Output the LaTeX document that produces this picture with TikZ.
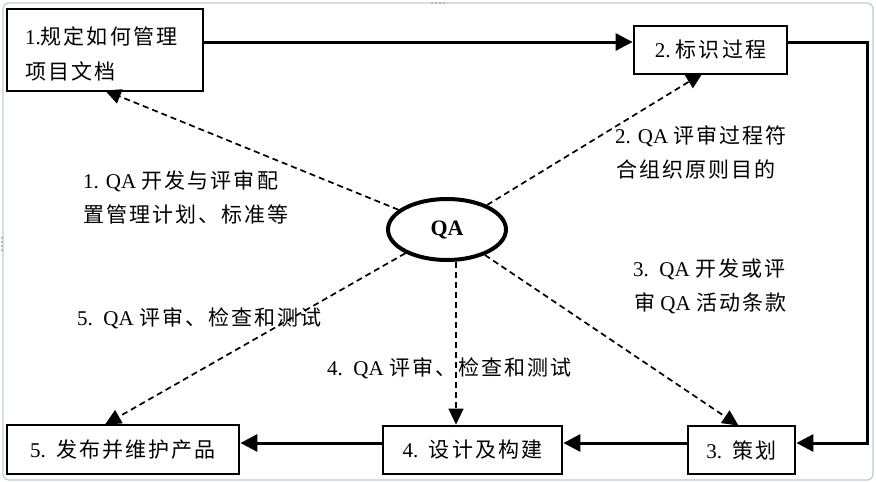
\documentclass[tikz,border=0pt]{standalone}
\usepackage{fontspec}
\setmainfont{Liberation Serif}
\newfontfamily\cjk[LetterSpace=10]{Noto Sans CJK SC}
\usetikzlibrary{arrows.meta,shapes.geometric}
\newcommand\zh[1]{{\cjk #1}}
\definecolor{framec}{RGB}{185,205,212}
\begin{document}
\begin{tikzpicture}[x=1pt,y=-1pt,
  box/.style={draw, line width=2.8pt, fill=white, inner sep=0pt,
    font=\fontsize{21}{35}\selectfont},
  flow/.style={line width=3pt, line join=miter, -{Triangle[length=17pt,width=17pt]}},
  qaline/.style={line width=1.7pt, dash pattern=on 6pt off 4pt,
    -{Triangle[length=16pt,width=15pt]}},
  lab/.style={anchor=base west, inner sep=0pt, font=\fontsize{21}{24}\selectfont},
  dot/.style={fill=framec!80!gray, minimum size=2pt, inner sep=0pt}
]
\useasboundingbox (0,0) rectangle (876,482);
\fill[white] (0,0) rectangle (876,482);
\draw[framec, line width=1.2pt, rounded corners=6pt] (3,3) rectangle (873,480);
\foreach \x in {432,436,440,444} \node[dot] at (\x,3) {};
\foreach \y in {238,242,246,250} \node[dot] at (2,\y) {};

\coordinate (ytop) at (0,42);
\coordinate (ybot) at (0,443);
\coordinate (rx) at (867,0);

% boxes
\node[box, text width=160pt, inner xsep=18pt, minimum height=82pt, align=left]
  (box1) at (105,50) {\rule{0pt}{26pt}1.\zh{规定如何管理}\\\zh{项目文档}};
\node[box, minimum width=153pt, minimum height=48pt] (box2) at (710.5,50) {2.\ \zh{标识过程}};
\node[box, minimum width=107pt, minimum height=48pt] (box3) at (741.5,450) {3.\ \ \zh{策划}};
\node[box, minimum width=179pt, minimum height=48pt] (box4) at (472.5,450) {4.\ \ \zh{设计及构建}};
\node[box, minimum width=232pt, minimum height=49pt] (box5) at (123,449.5) {5.\ \ \zh{发布并维护产品}};

% QA ellipse
\node[ellipse, draw, line width=4pt, minimum width=118pt, minimum height=61pt, inner sep=0pt,
  font=\fontsize{22}{24}\selectfont\bfseries] (qa) at (447,229.5) {QA};

% solid flow
\draw[flow] (box1.east |- ytop) -- (box2.west |- ytop);
\draw[flow] (box2.east |- ytop) -| (rx |- ybot) -- (box3.east |- ybot);
\draw[flow] (box3.west |- ybot) -- (box4.east |- ybot);
\draw[flow] (box4.west |- ybot) -- (box5.east |- ybot);

% dashed QA lines
\draw[qaline] (qa) -- ([yshift=2pt]box1.south);
\draw[qaline] (qa) -- ([xshift=-8pt,yshift=2pt]box2.south);
\draw[qaline] (qa) -- ([xshift=-3pt,yshift=-1pt]box3.north);
\draw[qaline] ([xshift=9pt]qa.south) -- ([xshift=9pt]qa.south |- box4.north);
\draw[qaline] (qa) -- ([xshift=-18pt,yshift=-1pt]box5.north);

% labels
\node[lab] (l1a) at (83,188) {1. QA \zh{开发与评审配}};
\node[lab] (l1b) at (83,222) {\zh{置管理计划、标准等}};
\node[lab] (l2a) at (615,143) {2. QA \zh{评审过程符}};
\node[lab] (l2b) at (616,177) {\zh{合组织原则目的}};
\node[lab] (l3a) at (633,276) {3.\ \ QA \zh{开发或评}};
\node[lab] (l3b) at (634,310) {\zh{审} QA \zh{活动条款}};
\node[lab] (l5) at (77,325) {5.\ \ QA \zh{评审、检查和测试}};
\node[lab] (l4) at (327,375) {4.\ \ QA \zh{评审、检查和测试}};
\end{tikzpicture}
\end{document}
